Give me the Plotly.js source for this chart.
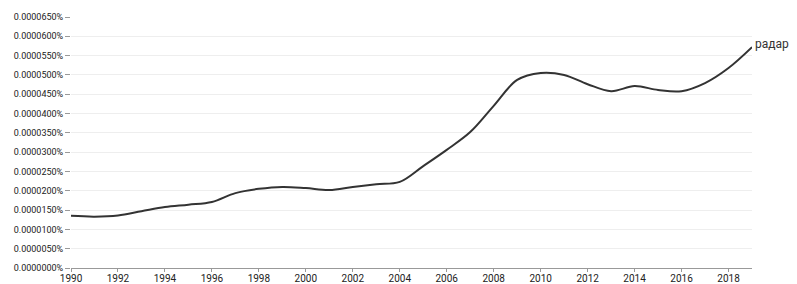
<!DOCTYPE html>
<html>
<head>
<meta charset="utf-8">
<script src="https://cdn.plot.ly/plotly-3.0.1.min.js"></script>
<style>html,body{margin:0;padding:0;background:#fff;}#chart{width:797px;height:284px;}</style>
</head>
<body>
<div id="chart"></div>
<script>
const years = [1990,1991,1992,1993,1994,1995,1996,1997,1998,1999,2000,2001,2002,2003,2004,2005,2006,2007,2008,2009,2010,2011,2012,2013,2014,2015,2016,2017,2018,2019];
const valuesPct = [0.0000135,0.0000133,0.0000136,0.0000147,0.0000158,0.0000164,0.0000171,0.0000194,0.0000205,0.0000210,0.0000207,0.0000202,0.0000210,0.0000217,0.0000223,0.0000264,0.0000306,0.0000352,0.0000420,0.0000487,0.0000505,0.0000500,0.0000476,0.0000458,0.0000471,0.0000461,0.0000458,0.0000479,0.0000518,0.0000572];
const seriesName = "радар";
const xTicks = [1990,1992,1994,1996,1998,2000,2002,2004,2006,2008,2010,2012,2014,2016,2018];

const trace = {
  x: years, y: valuesPct, type: 'scatter', mode: 'lines',
  line: {color: '#333333', width: 2, shape: 'spline', smoothing: 1},
  hoverinfo: 'none'
};
const layout = {
  width: 797, height: 284,
  margin: {l: 71, r: 45, t: 17, b: 16, pad: 0},
  paper_bgcolor: '#fff', plot_bgcolor: '#fff',
  font: {family: 'Roboto, sans-serif', size: 10, color: '#222'},
  showlegend: false,
  xaxis: {
    range: [1990, 2019], tickvals: xTicks, ticks: 'outside', ticklen: 3, tickcolor: '#999',
    ticklabelstandoff: -2,
    showgrid: false, showline: true, linecolor: '#999', linewidth: 1, zeroline: false,
    tickfont: {size: 10, color: '#222'}
  },
  yaxis: {
    range: [0, 0.000065], dtick: 0.000005, tick0: 0, tickformat: '.7f', ticksuffix: '%',
    ticks: 'outside', ticklen: 5, tickcolor: '#999',
    showgrid: true, gridcolor: '#eeeeee', gridwidth: 1, zeroline: false, showline: false,
    tickfont: {size: 9, color: '#222'}
  },
  annotations: [{
    x: years[years.length-1], y: valuesPct[valuesPct.length-1], xref: 'x', yref: 'y',
    text: seriesName, showarrow: false, xanchor: 'left', yanchor: 'middle', xshift: 1, yshift: 3,
    font: {size: 12, color: '#333'}
  }]
};
Plotly.newPlot('chart', [trace], layout, {displayModeBar: false, staticPlot: true});
</script>
</body>
</html>
